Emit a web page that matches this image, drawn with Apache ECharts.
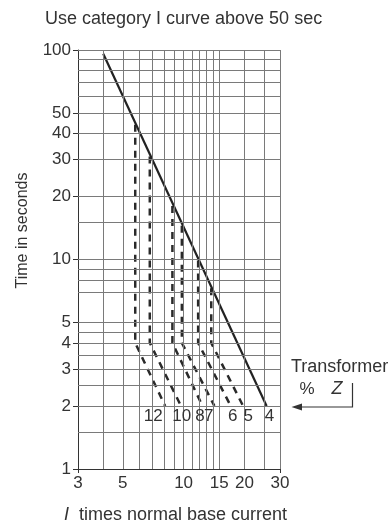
<!DOCTYPE html>
<html><head><meta charset="utf-8">
<script src="https://cdn.jsdelivr.net/npm/echarts@6/dist/echarts.min.js"></script>
<style>html,body{margin:0;padding:0;background:#fff}#c{width:392px;height:529px}</style>
</head><body><div id="c"></div>
<script>
// axis labels / grid values
const xTickLabels = [3, 5, 10, 15, 20, 30];
const yTickLabels = [1, 2, 3, 4, 5, 10, 20, 30, 40, 50, 100];
const xGridValues = [4, 5, 6, 7, 8, 9, 10, 11, 12, 13, 14, 15, 20, 25, 30];
const yGridValues = [1.5, 2, 2.5, 3, 3.5, 4, 4.5, 5, 7, 8, 9, 10, 15, 20, 30, 40, 50, 60, 70, 80, 90, 100];

// main (solid) curve
const mainX = [4, 25.75];
const mainY = [96, 2];

// dashed curves per transformer %Z
const zValues = ['12', '10', '8', '7', '6', '5'];
const kneeX = [5.76, 6.8, 8.8, 9.8, 11.8, 13.7];
const topY = [44, 31, 18, 14.5, 9.9, 7.3];
const kneeY = [4, 4, 4, 4, 4, 4];
const endX = [8.1, 9.7, 12.4, 14.2, 17.1, 19.7];
const endY = [2, 2, 2, 2, 2, 2];

// %Z labels under the curves
const zLabels = ['12', '10', '8', '7', '6', '5', '4'];
const zLabelX = [7.07, 9.78, 12.05, 13.3, 17.5, 20.9, 26.6];
const zLabelY = [1.79, 1.79, 1.79, 1.79, 1.79, 1.79, 1.79];

const FONT = "'Liberation Sans', Arial, sans-serif";
const TXT = '#333';

const chart = echarts.init(document.getElementById('c'), null, {renderer: 'canvas'});

const series = [];
series.push({
  type: 'line', data: [], z: 1, silent: true,
  markLine: {
    silent: true, symbol: ['none', 'none'], animation: false,
    label: {show: false},
    lineStyle: {color: '#7a7a7a', width: 1, type: 'solid'},
    emphasis: {disabled: true},
    data: xGridValues.map(v => ({xAxis: v})).concat(yGridValues.map(v => ({yAxis: v})))
  }
});
series.push({
  type: 'line', z: 4, symbol: 'none', silent: true,
  lineStyle: {color: '#222', width: 2.2},
  data: mainX.map((x, i) => [x, mainY[i]])
});
zValues.forEach((z, i) => {
  series.push({
    name: 'Z ' + z, type: 'line', z: 3, symbol: 'none', silent: true,
    lineStyle: {color: '#2a2a2a', width: 2.5, type: [7, 6]},
    data: [[kneeX[i], topY[i]], [kneeX[i], kneeY[i]], [endX[i], endY[i]]]
  });
});
series.push({
  type: 'scatter', z: 5, silent: true, symbolSize: 2,
  itemStyle: {color: 'rgba(0,0,0,0)'},
  label: {show: true, position: 'inside', formatter: '{b}', fontSize: 17, color: TXT, fontFamily: FONT, opacity: 1},
  data: zLabels.map((t, i) => ({name: t, value: [zLabelX[i], zLabelY[i]]}))
});

chart.setOption({
  animation: false,
  backgroundColor: '#fff',
  title: {
    text: 'Use category I curve above 50 sec', left: 40, top: 5,
    textStyle: {fontSize: 18, fontWeight: 'normal', color: TXT, fontFamily: FONT}
  },
  grid: {left: 78, right: 112, top: 50, bottom: 58, containLabel: false},
  xAxis: {
    type: 'log', logBase: 10, min: 3, max: 30,
    axisLine: {show: true, lineStyle: {color: '#333', width: 1}},
    axisTick: {show: true, customValues: [3, 30], length: 4, lineStyle: {color: '#333'}},
    axisLabel: {customValues: xTickLabels, margin: 6, fontSize: 17, color: TXT, fontFamily: FONT},
    splitLine: {show: false},
    minorTick: {show: false},
    name: '{i|I}  times normal base current',
    nameLocation: 'middle', nameGap: 37,
    nameTextStyle: {fontSize: 18, color: TXT, fontFamily: FONT, padding: [0, 7, 0, 0],
      rich: {i: {fontStyle: 'italic', fontSize: 18, color: TXT, fontFamily: FONT}}}
  },
  yAxis: {
    type: 'log', logBase: 10, min: 1, max: 100,
    axisLine: {show: true, lineStyle: {color: '#333', width: 1}},
    axisTick: {show: true, customValues: yTickLabels, length: 5, lineStyle: {color: '#333'}},
    axisLabel: {customValues: yTickLabels, margin: 7, fontSize: 17, color: TXT, fontFamily: FONT},
    splitLine: {show: false},
    name: 'Time in seconds', nameLocation: 'middle', nameGap: 47, nameRotate: 90,
    nameTextStyle: {fontSize: 16, color: TXT, fontFamily: FONT, padding: [0, 0, 0, 58]}
  },
  graphic: [
    {type: 'text', x: 291, y: 367, silent: true,
      style: {text: 'Transformer', fontSize: 18, fill: TXT, fontFamily: FONT, align: 'left', verticalAlign: 'middle'}},
    {type: 'text', x: 307, y: 389, silent: true,
      style: {text: '%', fontSize: 17, fill: TXT, fontFamily: FONT, align: 'center', verticalAlign: 'middle'}},
    {type: 'text', x: 337, y: 389, silent: true,
      style: {text: 'Z', fontSize: 18, fontStyle: 'italic', fill: TXT, fontFamily: FONT, align: 'center', verticalAlign: 'middle'}},
    {type: 'polyline', silent: true,
      shape: {points: [[352.5, 383], [352.5, 407], [300, 407]]},
      style: {stroke: '#333', lineWidth: 1.2, fill: null}},
    {type: 'polygon', silent: true,
      shape: {points: [[291.5, 407], [302, 403.5], [302, 410.5]]},
      style: {fill: '#333'}}
  ],
  series: series
});
</script>
</body></html>
